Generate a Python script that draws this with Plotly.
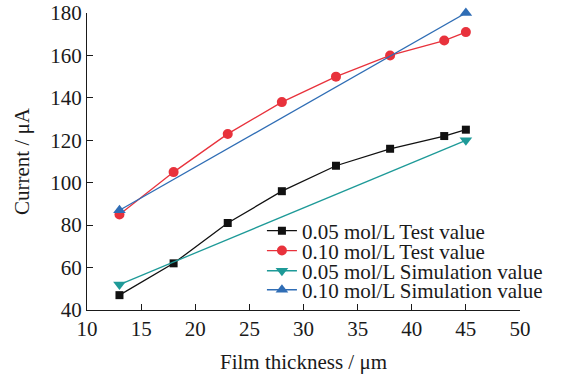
import plotly.graph_objects as go

thickness = [13, 18, 23, 28, 33, 38, 43, 45]
test_005 = [47, 62, 81, 96, 108, 116, 122, 125]
test_010 = [85, 105, 123, 138, 150, 160, 167, 171]
sim_x = [13, 45]
sim_005 = [52, 120]
sim_010 = [87, 180]

x_ticks = [10, 15, 20, 25, 30, 35, 40, 45, 50]
y_ticks = [40, 60, 80, 100, 120, 140, 160, 180]

FONT = "Liberation Serif"
FS = 21

fig = go.Figure()
fig.add_trace(go.Scatter(x=thickness, y=test_005, mode="lines+markers",
                         name="0.05 mol/L Test value", legend="legend", cliponaxis=False,
                         line=dict(color="#111111", width=1.3),
                         marker=dict(symbol="square", size=8, color="#111111")))
fig.add_trace(go.Scatter(x=thickness, y=test_010, mode="lines+markers",
                         name="0.10 mol/L Test value", legend="legend2", cliponaxis=False,
                         line=dict(color="#e8323c", width=1.3),
                         marker=dict(symbol="circle", size=10, color="#e8323c")))
fig.add_trace(go.Scatter(x=sim_x, y=sim_005, mode="lines+markers",
                         name="0.05 mol/L Simulation value", legend="legend3", cliponaxis=False,
                         line=dict(color="#1e9a98", width=1.3),
                         marker=dict(symbol="triangle-down", size=11, color="#1e9a98")))
fig.add_trace(go.Scatter(x=sim_x, y=sim_010, mode="lines+markers",
                         name="0.10 mol/L Simulation value", legend="legend4", cliponaxis=False,
                         line=dict(color="#2f6db5", width=1.3),
                         marker=dict(symbol="triangle-up", size=11, color="#2f6db5")))

def leg(y):
    return dict(x=0.404, y=y, xanchor="left", yanchor="middle",
                bgcolor="rgba(0,0,0,0)", font=dict(family=FONT, size=FS),
                itemwidth=30)

fig.update_layout(
    width=562, height=374,
    margin=dict(l=87, r=42, t=13, b=64, autoexpand=False),
    paper_bgcolor="white", plot_bgcolor="white",
    font=dict(family=FONT, size=FS, color="#1a1a1a"),
    showlegend=True,
    legend=leg(0.266), legend2=leg(0.199), legend3=leg(0.131), legend4=leg(0.067),
    xaxis=dict(range=[10, 50], tickvals=x_ticks, ticks="inside", ticklen=6,
               showline=True, linecolor="#1a1a1a", linewidth=1.3, tickcolor="#1a1a1a",
               showgrid=False, zeroline=False, mirror=False, automargin=False,
               title=dict(text="Film thickness / μm", font=dict(size=FS), standoff=18)),
    yaxis=dict(range=[40, 180], tickvals=y_ticks, ticks="inside", ticklen=6,
               showline=True, linecolor="#1a1a1a", linewidth=1.3, tickcolor="#1a1a1a",
               showgrid=False, zeroline=False, mirror=False, automargin=False,
               title=dict(text="Current / μA", font=dict(size=FS), standoff=14)),
)

fig.write_html("out.html")
